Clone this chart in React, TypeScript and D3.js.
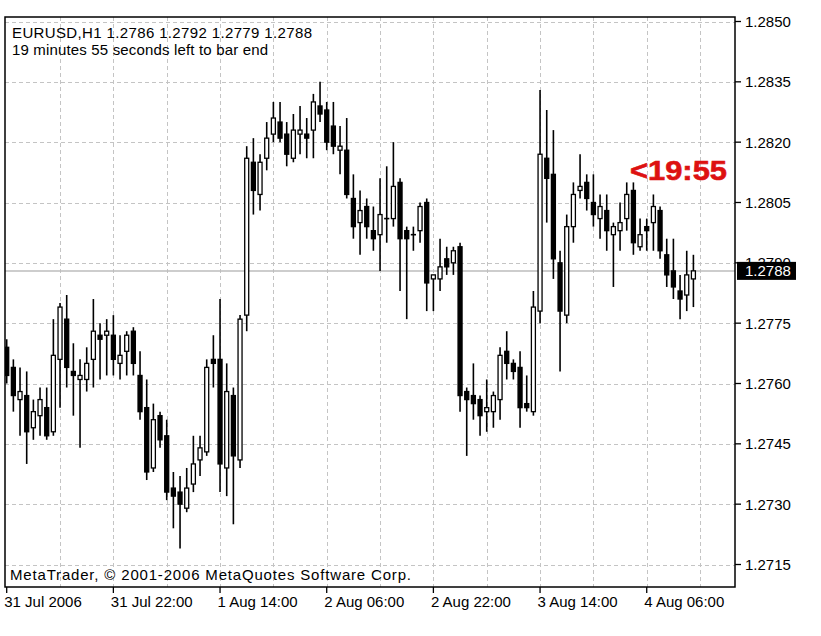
import React from 'react';
import * as d3 from 'd3';

const symbol = 'EURUSD,H1';
const timerText = '19 minutes 55 seconds left to bar end';
const countdown = '<19:55';
const copyright = 'MetaTrader, \u00A9 2001-2006 MetaQuotes Software Corp.';

const timeLabels = ['31 Jul 2006', '31 Jul 22:00', '1 Aug 14:00', '2 Aug 06:00', '2 Aug 22:00', '3 Aug 14:00', '4 Aug 06:00'];
const timeLabelBars = [0, 16, 32, 48, 64, 80, 96];
const gridBars = [8, 16, 24, 32, 40, 48, 56, 64, 72, 80, 88, 96, 104];
const priceTicks = [1.2850, 1.2835, 1.2820, 1.2805, 1.2790, 1.2775, 1.2760, 1.2745, 1.2730, 1.2715];
const lastPrice = 1.2788;

const opens = [
  1.2769, 1.2764, 1.2756, 1.2757, 1.2749, 1.2752, 1.2754, 1.2748, 1.2766, 1.2776,
  1.2763, 1.2761, 1.2761, 1.2766, 1.2772, 1.2772, 1.2772, 1.2765, 1.2768, 1.2773,
  1.2762, 1.2754, 1.2739, 1.2752, 1.2747, 1.2734, 1.2733, 1.2729, 1.2735, 1.2741,
  1.2743, 1.2766, 1.2766, 1.2739, 1.2757, 1.2741, 1.2777, 1.2815, 1.2807, 1.2816,
  1.2822, 1.2825, 1.2822, 1.2816, 1.2822, 1.2822, 1.2823, 1.2829, 1.2828, 1.2824,
  1.2818, 1.2818, 1.2806, 1.2800, 1.2804, 1.2798, 1.2797, 1.2801, 1.2801, 1.2810,
  1.2798, 1.2797, 1.2798, 1.2805, 1.2786, 1.2786, 1.2791, 1.2790, 1.2794, 1.2758,
  1.2757, 1.2756, 1.2753, 1.2753, 1.2756, 1.2768, 1.2765, 1.2764, 1.2755, 1.2753,
  1.2778, 1.2816, 1.2812, 1.2790, 1.2777, 1.2799, 1.2808, 1.2810, 1.2805, 1.2801,
  1.2803, 1.2797, 1.2798, 1.2801, 1.2808, 1.2794, 1.2799, 1.2800, 1.2803, 1.2792,
  1.2788, 1.2783, 1.2782, 1.2786,
];
const highs = [
  1.2771, 1.2766, 1.2764, 1.2763, 1.2756, 1.2759, 1.2759, 1.2776, 1.2780, 1.2782,
  1.2770, 1.2766, 1.2769, 1.2781, 1.2775, 1.2776, 1.2777, 1.2772, 1.2773, 1.2774,
  1.2768, 1.2761, 1.2755, 1.2753, 1.2751, 1.2738, 1.2737, 1.2739, 1.2747, 1.2747,
  1.2766, 1.2772, 1.2781, 1.2765, 1.2759, 1.2777, 1.2819, 1.2821, 1.2817, 1.2825,
  1.2830, 1.2830, 1.2825, 1.2827, 1.2829, 1.2826, 1.2832, 1.2835, 1.2830, 1.2830,
  1.2824, 1.2826, 1.2812, 1.2808, 1.2806, 1.2804, 1.2811, 1.2814, 1.2820, 1.2811,
  1.2799, 1.2799, 1.2805, 1.2806, 1.2787, 1.2796, 1.2794, 1.2794, 1.2795, 1.2759,
  1.2765, 1.2757, 1.2761, 1.2758, 1.2769, 1.2773, 1.2766, 1.2768, 1.2762, 1.2783,
  1.2833, 1.2828, 1.2823, 1.2793, 1.2802, 1.2810, 1.2817, 1.2812, 1.2812, 1.2807,
  1.2807, 1.2800, 1.2805, 1.2810, 1.2810, 1.2801, 1.2801, 1.2807, 1.2804, 1.2796,
  1.2796, 1.2787, 1.2793, 1.2792,
];
const lows = [
  1.2760, 1.2753, 1.2747, 1.2740, 1.2746, 1.2747, 1.2746, 1.2747, 1.2754, 1.2759,
  1.2752, 1.2744, 1.2758, 1.2759, 1.2761, 1.2762, 1.2762, 1.2761, 1.2762, 1.2762,
  1.2751, 1.2736, 1.2738, 1.2744, 1.2731, 1.2724, 1.2719, 1.2728, 1.2733, 1.2737,
  1.2742, 1.2759, 1.2733, 1.2732, 1.2725, 1.2739, 1.2773, 1.2802, 1.2803, 1.2813,
  1.2820, 1.2820, 1.2814, 1.2815, 1.2817, 1.2816, 1.2816, 1.2825, 1.2818, 1.2817,
  1.2812, 1.2806, 1.2796, 1.2792, 1.2796, 1.2793, 1.2788, 1.2795, 1.2799, 1.2783,
  1.2776, 1.2793, 1.2795, 1.2778, 1.2778, 1.2783, 1.2787, 1.2787, 1.2753, 1.2742,
  1.2751, 1.2747, 1.2748, 1.2749, 1.2751, 1.2761, 1.2761, 1.2749, 1.2753, 1.2752,
  1.2775, 1.2800, 1.2786, 1.2763, 1.2775, 1.2795, 1.2806, 1.2803, 1.2799, 1.2796,
  1.2793, 1.2784, 1.2793, 1.2798, 1.2792, 1.2793, 1.2793, 1.2793, 1.2791, 1.2784,
  1.2781, 1.2776, 1.2778, 1.2779,
];
const closes = [
  1.2762, 1.2757, 1.2758, 1.2748, 1.2753, 1.2756, 1.2747, 1.2767, 1.2779, 1.2764,
  1.2762, 1.2762, 1.2765, 1.2773, 1.2771, 1.2773, 1.2766, 1.2767, 1.2772, 1.2765,
  1.2753, 1.2738, 1.2751, 1.2746, 1.2733, 1.2732, 1.2730, 1.2734, 1.2740, 1.2744,
  1.2764, 1.2765, 1.2740, 1.2758, 1.2742, 1.2776, 1.2816, 1.2808, 1.2815, 1.2821,
  1.2826, 1.2821, 1.2817, 1.2823, 1.2823, 1.2821, 1.2830, 1.2827, 1.2820, 1.2819,
  1.2819, 1.2807, 1.2799, 1.2803, 1.2799, 1.2796, 1.2802, 1.2801, 1.2809, 1.2796,
  1.2796, 1.2797, 1.2804, 1.2785, 1.2787, 1.2789, 1.2789, 1.2793, 1.2757, 1.2756,
  1.2755, 1.2752, 1.2754, 1.2757, 1.2767, 1.2765, 1.2763, 1.2754, 1.2754, 1.2779,
  1.2817, 1.2811, 1.2791, 1.2778, 1.2799, 1.2807, 1.2809, 1.2806, 1.2802, 1.2804,
  1.2798, 1.2799, 1.2800, 1.2807, 1.2795, 1.2797, 1.2798, 1.2804, 1.2793, 1.2787,
  1.2784, 1.2781, 1.2787, 1.2788,
];

const FONT = '"Liberation Sans", Arial, sans-serif';

export default function App() {
  const W = 821;
  const H = 636;
  const left = 5;
  const right = 735;
  const top = 17;
  const bottom = 587;
  const n = opens.length;

  const x = d3.scaleLinear().domain([0, n - 1]).range([6.7, 693.4]);
  const y = d3.scaleLinear().domain([1.2715, 1.285]).range([564.5, 21.5]);
  const fmt = d3.format('.4f');

  const last = n - 1;
  const header = `${symbol}  ${fmt(opens[last])} ${fmt(highs[last])} ${fmt(lows[last])} ${fmt(closes[last])}`;

  const bodyW = 4;
  const gridColor = '#c4c4c4';

  return (
    <svg width={W} height={H} style={{ position: 'absolute', left: 0, top: 0, background: '#fff' }}>
      <defs>
        <clipPath id="plot">
          <rect x={left} y={top} width={right - left} height={bottom - top} />
        </clipPath>
      </defs>
      <rect x={0} y={0} width={W} height={H} fill="#fff" />

      {/* grid */}
      <g stroke={gridColor} strokeWidth={1} strokeDasharray="4,3">
        {priceTicks.map((p) => (
          <line key={'h' + p} x1={left} x2={right} y1={Math.round(y(p)) + 0.5} y2={Math.round(y(p)) + 0.5} />
        ))}
        {gridBars.map((b) => (
          <line key={'v' + b} x1={Math.round(x(b)) + 0.5} x2={Math.round(x(b)) + 0.5} y1={top} y2={bottom} />
        ))}
      </g>

      {/* last price line */}
      <line x1={left} x2={right} y1={y(lastPrice)} y2={y(lastPrice)} stroke="#bdbdbd" strokeWidth={1.5} />

      {/* candles */}
      <g clipPath="url(#plot)">
        {opens.map((o, i) => {
          const c = closes[i];
          const cx = x(i);
          const yo = y(o);
          const yc = y(c);
          const yh = y(highs[i]);
          const yl = y(lows[i]);
          const topB = Math.min(yo, yc);
          const hB = Math.abs(yo - yc);
          const bear = c < o;
          return (
            <g key={i}>
              <line x1={cx} x2={cx} y1={yh} y2={yl} stroke="#000" strokeWidth={1.6} />
              {hB < 1 ? (
                <line x1={cx - bodyW / 2 - 0.6} x2={cx + bodyW / 2 + 0.6} y1={yo} y2={yo} stroke="#000" strokeWidth={1.6} />
              ) : (
                <rect
                  x={cx - bodyW / 2}
                  y={topB}
                  width={bodyW}
                  height={hB}
                  fill={bear ? '#000' : '#fff'}
                  stroke="#000"
                  strokeWidth={1.3}
                />
              )}
            </g>
          );
        })}
      </g>

      {/* frame */}
      <rect x={left} y={top} width={right - left} height={bottom - top} fill="none" stroke="#000" strokeWidth={1.5} />

      {/* right axis */}
      <g fontFamily={FONT} fontSize={15} fill="#000">
        {priceTicks.map((p) => (
          <g key={'t' + p}>
            <line x1={right} x2={right + 6} y1={y(p)} y2={y(p)} stroke="#000" strokeWidth={1.3} />
            <text x={745} y={y(p) + 5.5}>{fmt(p)}</text>
          </g>
        ))}
        <rect x={737} y={y(lastPrice) - 9} width={59} height={18} fill="#000" />
        <text x={745} y={y(lastPrice) + 5.5} fill="#fff">{fmt(lastPrice)}</text>
      </g>

      {/* bottom axis */}
      <g fontFamily={FONT} fontSize={15} fill="#000">
        {timeLabelBars.map((b, k) => (
          <g key={'x' + b}>
            <line x1={x(b)} x2={x(b)} y1={bottom} y2={bottom + 6} stroke="#000" strokeWidth={1.3} />
            <text x={x(b) - 2.5} y={607}>{timeLabels[k]}</text>
          </g>
        ))}
      </g>

      {/* texts */}
      <g fontFamily={FONT} fontSize={15} fill="#000">
        <text x={12} y={38} textLength={300} lengthAdjust="spacing">{header}</text>
        <text x={12} y={55} textLength={256} lengthAdjust="spacing">{timerText}</text>
        <text x={10} y={580} textLength={401} lengthAdjust="spacing">{copyright}</text>
      </g>
      <text x={630} y={179.5} fontFamily={FONT} fontWeight="bold" fontSize={28} fill="#dd1111" stroke="#dd1111" strokeWidth={0.6} textLength={97} lengthAdjust="spacingAndGlyphs">
        {countdown}
      </text>
    </svg>
  );
}
